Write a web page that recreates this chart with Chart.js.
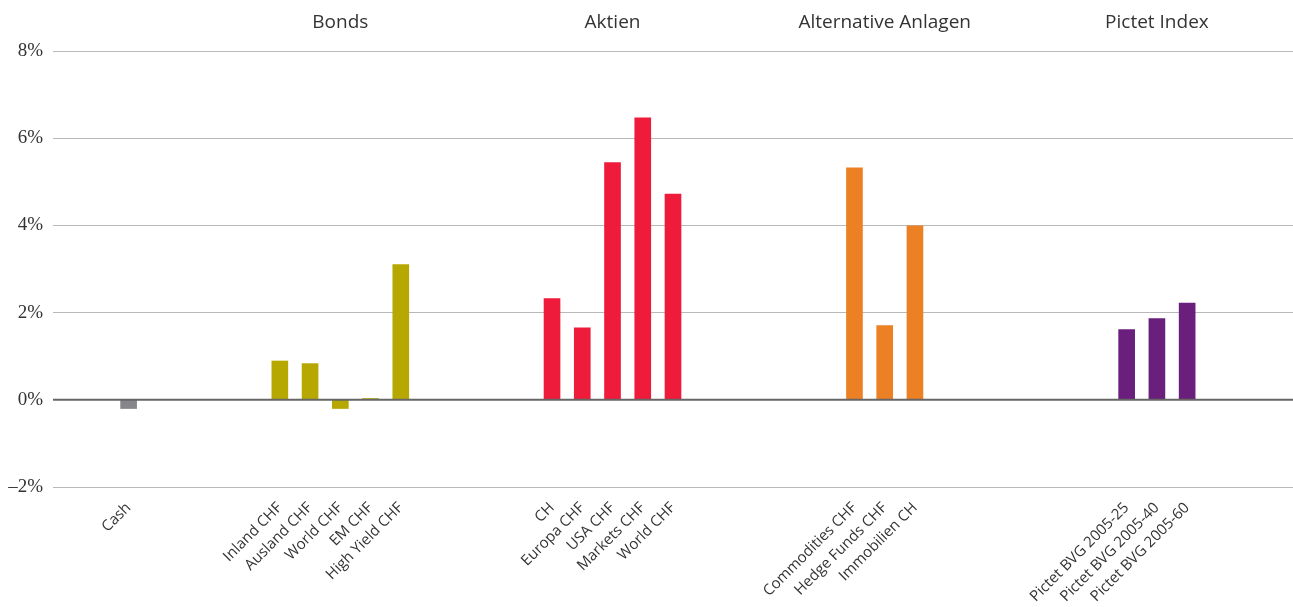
<!DOCTYPE html>
<html lang="de">
<head>
  <meta charset="UTF-8">
  <title>Renditen nach Anlageklasse</title>
  <script src="https://cdn.jsdelivr.net/npm/chart.js"></script>
  <style>
    body { margin: 0; background: #ffffff; }
    .chart-container { width: 1293px; height: 607px; }
  </style>
</head>
<body>

<div class="chart-container">
  <canvas id="returnChart"></canvas>
</div>

<script>
  // Werte (in %)
  const cashLabels = ['Cash'];
  const cashValues = [-0.2];

  const bondLabels = ['Inland CHF', 'Ausland CHF', 'World CHF', 'EM CHF', 'High Yield CHF'];
  const bondValues = [0.89, 0.83, -0.2, 0.03, 3.1];

  const equityLabels = ['CH', 'Europa CHF', 'USA CHF', 'Markets CHF', 'World CHF'];
  const equityValues = [2.32, 1.65, 5.44, 6.47, 4.72];

  const altLabels = ['Commodities CHF', 'Hedge Funds CHF', 'Immobilien CH'];
  const altValues = [5.32, 1.70, 3.99];

  const pictetLabels = ['Pictet BVG 2005-25', 'Pictet BVG 2005-40', 'Pictet BVG 2005-60'];
  const pictetValues = [1.61, 1.86, 2.22];

  const yTicks = [-2, 0, 2, 4, 6, 8];

  // Gruppen mit Titel, Farbe und Leerplätzen davor
  const groups = [
    { title: '', labels: cashLabels, values: cashValues, color: '#85858a', gapBefore: 2 },
    { title: 'Bonds', labels: bondLabels, values: bondValues, color: '#b6a800', gapBefore: 4 },
    { title: 'Aktien', labels: equityLabels, values: equityValues, color: '#ee1b3b', gapBefore: 4 },
    { title: 'Alternative Anlagen', labels: altLabels, values: altValues, color: '#ec8024', gapBefore: 5 },
    { title: 'Pictet Index', labels: pictetLabels, values: pictetValues, color: '#6b1f7d', gapBefore: 6 }
  ];
  const gapAfter = 3;

  // Kategorien, Werte und Farben mit Leerplätzen zusammensetzen
  const labels = [];
  const values = [];
  const colors = [];
  const titleSlots = [];
  groups.forEach(g => {
    for (let i = 0; i < g.gapBefore; i++) { labels.push(''); values.push(null); colors.push('transparent'); }
    const start = labels.length;
    g.labels.forEach((l, i) => { labels.push(l); values.push(g.values[i]); colors.push(g.color); });
    if (g.title) titleSlots.push({ title: g.title, index: start + (g.labels.length - 1) / 2 });
  });
  for (let i = 0; i < gapAfter; i++) { labels.push(''); values.push(null); colors.push('transparent'); }

  // Gruppentitel oben und Nulllinie über den Balken
  const groupTitles = {
    id: 'groupTitles',
    afterDatasetsDraw(chart) {
      const ctx = chart.ctx;
      const x = chart.scales.x;
      const y = chart.scales.y;
      const area = chart.chartArea;

      ctx.save();
      ctx.strokeStyle = '#666666';
      ctx.lineWidth = 2;
      ctx.beginPath();
      ctx.moveTo(area.left, y.getPixelForValue(0));
      ctx.lineTo(area.right, y.getPixelForValue(0));
      ctx.stroke();

      ctx.fillStyle = '#333333';
      ctx.font = '19px "Open Sans", sans-serif';
      ctx.textAlign = 'center';
      ctx.textBaseline = 'alphabetic';
      titleSlots.forEach(t => {
        const i0 = Math.floor(t.index);
        const i1 = Math.ceil(t.index);
        const px = (x.getPixelForValue(i0) + x.getPixelForValue(i1)) / 2;
        ctx.fillText(t.title, px, 28);
      });
      ctx.restore();
    }
  };

  const ctx = document.getElementById('returnChart').getContext('2d');
  new Chart(ctx, {
    type: 'bar',
    data: {
      labels: labels,
      datasets: [{
        data: values,
        backgroundColor: colors,
        borderWidth: 0,
        barThickness: 16
      }]
    },
    options: {
      responsive: true,
      maintainAspectRatio: false,
      animation: false,
      layout: { padding: { top: 51, right: 0, left: 0, bottom: 0 } },
      plugins: {
        legend: { display: false },
        tooltip: { enabled: false }
      },
      scales: {
        x: {
          grid: { display: false },
          border: { display: false },
          ticks: {
            autoSkip: false,
            minRotation: 45,
            maxRotation: 45,
            padding: 4,
            color: '#333333',
            font: { family: '"Open Sans", sans-serif', size: 15 }
          },
          afterFit(scale) {
            scale.height = 120;
            scale.paddingLeft = 0;
            scale.paddingRight = 0;
          }
        },
        y: {
          min: -2,
          max: 8,
          afterBuildTicks(scale) { scale.ticks = yTicks.map(v => ({ value: v })); },
          grid: {
            color: ctx => ctx.tick && ctx.tick.value === 0 ? '#666666' : '#b9b9b9',
            lineWidth: 1,
            drawTicks: false
          },
          border: { display: false },
          ticks: {
            padding: 10,
            color: '#333333',
            font: { family: '"Liberation Serif", serif', size: 19 },
            callback: v => (v < 0 ? '–' + Math.abs(v) : v) + '%'
          },
          afterFit(scale) { scale.width = 53; }
        }
      }
    },
    plugins: [groupTitles]
  });
</script>

</body>
</html>
